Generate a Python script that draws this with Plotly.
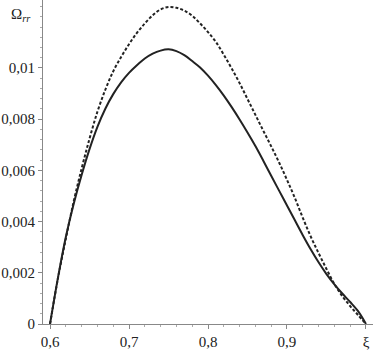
import plotly.graph_objects as go

# Abscissa grid ξ (shared by both curves)
xi = [0.60, 0.61, 0.62, 0.63, 0.64, 0.65, 0.66, 0.67, 0.68, 0.69,
      0.70, 0.71, 0.72, 0.73, 0.74, 0.75, 0.76, 0.77, 0.78, 0.79,
      0.80, 0.81, 0.82, 0.83, 0.84, 0.85, 0.86, 0.87, 0.88, 0.89,
      0.90, 0.91, 0.92, 0.93, 0.94, 0.95, 0.96, 0.97, 0.98, 0.99, 1.00]

# Dashed curve (upper peak)
om_dashed = [0.0, 0.00178, 0.00333, 0.00479, 0.00607, 0.00724, 0.00829, 0.00915, 0.00987, 0.01043,
             0.01093, 0.01137, 0.01174, 0.01206, 0.01229, 0.01238, 0.01235, 0.01224, 0.01204, 0.01174,
             0.01140, 0.01102, 0.01052, 0.00998, 0.00941, 0.00879, 0.00817, 0.00755, 0.00694, 0.00631,
             0.00563, 0.00492, 0.00415, 0.00342, 0.00277, 0.00215, 0.00156, 0.00109, 0.00070, 0.00035, 0.0]

# Solid curve (lower peak)
om_solid = [0.0, 0.00180, 0.00340, 0.00470, 0.00582, 0.00683, 0.00770, 0.00841, 0.00898, 0.00944,
            0.00981, 0.01011, 0.01037, 0.01056, 0.01068, 0.01073, 0.01066, 0.01050, 0.01027, 0.01002,
            0.00970, 0.00933, 0.00892, 0.00847, 0.00799, 0.00748, 0.00695, 0.00638, 0.00579, 0.00521,
            0.00463, 0.00405, 0.00347, 0.00292, 0.00241, 0.00195, 0.00155, 0.00119, 0.00086, 0.00050, 0.0]

x_tickvals = [0.6, 0.7, 0.8, 0.9, 1.0]
x_ticktext = ["0,6", "0,7", "0,8", "0,9", "ξ"]
y_tickvals = [0, 0.002, 0.004, 0.006, 0.008, 0.01]
y_ticktext = ["0", "0,002", "0,004", "0,006", "0,008", "0,01"]

font = dict(family="Liberation Serif, DejaVu Serif, serif", size=15, color="#222")

fig = go.Figure()
fig.add_trace(go.Scatter(x=xi, y=om_dashed, mode="lines",
                         line=dict(color="#222", width=2, dash="3px,2px", shape="spline", smoothing=1)))
fig.add_trace(go.Scatter(x=xi, y=om_solid, mode="lines",
                         line=dict(color="#222", width=2, shape="spline", smoothing=1)))

fig.update_layout(
    width=373, height=354,
    margin=dict(l=43, r=0, t=0, b=30),
    paper_bgcolor="white", plot_bgcolor="white",
    showlegend=False,
    font=font,
    xaxis=dict(range=[0.5911, 1.0089], showgrid=False, zeroline=False,
               showline=True, linecolor="#888", linewidth=1,
               tickvals=x_tickvals, ticktext=x_ticktext,
               ticks="outside", ticklen=4, tickcolor="#888",
               minor=dict(dtick=0.02, tick0=0.6, ticks="outside", ticklen=2, tickcolor="#aaa")),
    yaxis=dict(range=[0, 0.012656], showgrid=False, zeroline=False,
               showline=True, linecolor="#888", linewidth=1,
               tickvals=y_tickvals, ticktext=y_ticktext,
               ticks="outside", ticklen=4, tickcolor="#888",
               minor=dict(dtick=0.0004, tick0=0, ticks="outside", ticklen=2, tickcolor="#aaa")),
    annotations=[dict(xref="paper", yref="paper",
                      x=(9 - 43) / 330, y=(324 - 15) / 324,
                      xanchor="left", yanchor="middle", showarrow=False,
                      text="Ω<sub><i>rr</i></sub>", font=font)],
)

fig.write_html("out.html", config={"displayModeBar": False},
               post_script="document.body.style.margin='0';document.body.style.overflow='hidden';")
